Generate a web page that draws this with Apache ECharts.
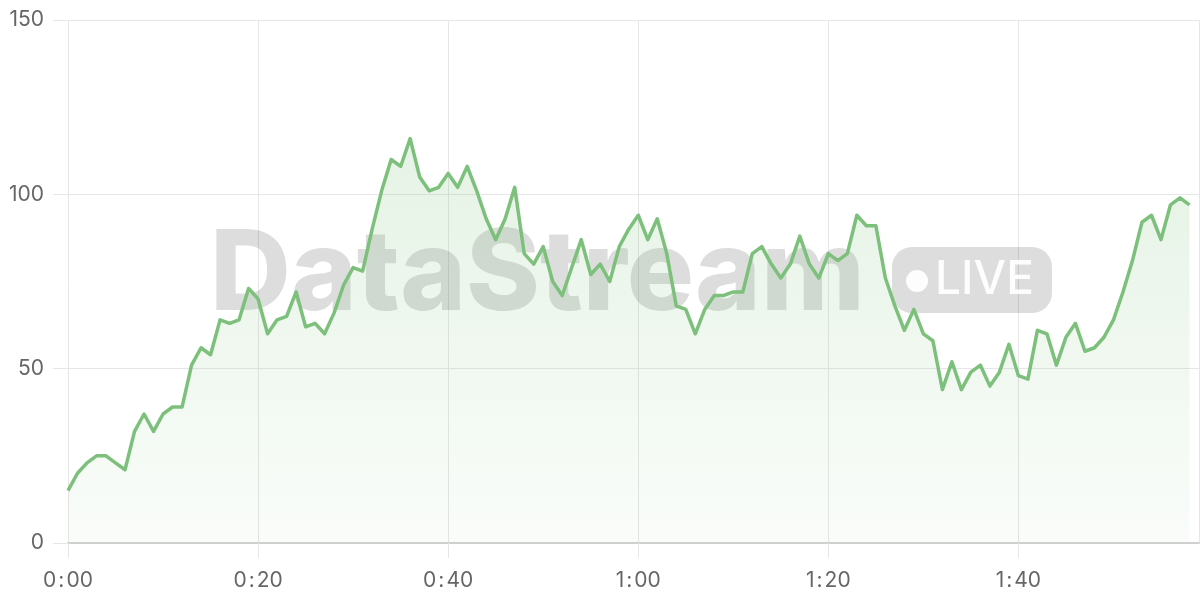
<!DOCTYPE html>
<html>
<head>
<meta charset="utf-8">
<script src="https://cdn.jsdelivr.net/npm/echarts@6/dist/echarts.min.js"></script>
<style>
html,body{margin:0;padding:0;background:#fff;}
#chart{width:1200px;height:600px;}
</style>
</head>
<body>
<div id="chart"></div>
<script>
// sample minute offsets start at 0, one sample per minute
const startMinute = 0;
const stepMinutes = 1;
const values = [
  15,20,23,25,25,23,21,32,37,32,
  37,39,39,51,56,54,64,63,64,73,
  70,60,64,65,72,62,63,60,66,74,
  79,78,90,101,110,108,116,105,101,102,
  106,102,108,101,93,87,93,102,83,80,
  85,75,71,79,87,77,80,75,85,90,
  94,87,93,83,68,67,60,67,71,71,
  72,72,83,85,80,76,80,88,80,76,
  83,81,83,94,91,91,76,68,61,67,
  60,58,44,52,44,49,51,45,49,57,
  48,47,61,60,51,59,63,55,56,59,
  64,72,81,92,94,87,97,99,97
];
const xMin = 0, xMax = 119, xInterval = 20;
const yTicks = [0, 50, 100, 150];
const watermarkTitle = 'DataStream';
const watermarkBadge = 'LIVE';

const seriesData = values.map((v, i) => [startMinute + i * stepMinutes, v]);

function fmtTime(v) {
  const h = Math.floor(v / 60);
  const m = Math.round(v % 60);
  return '{d|' + h + '}{c|:}{d|' + (m < 10 ? '0' + m : m) + '}';
}

const chart = echarts.init(document.getElementById('chart'), null, {renderer: 'canvas'});
const lineColor = '#7cc07c';
const gridColor = '#e6e6e6';
const labelFont = 'Inter, "Noto Sans", sans-serif';

chart.setOption({
  animation: false,
  backgroundColor: '#ffffff',
  grid: {left: 68, right: 1, top: 20, bottom: 57, containLabel: false},
  xAxis: {
    type: 'value',
    min: xMin, max: xMax, interval: xInterval,
    axisLine: {show: true, lineStyle: {color: '#d0d0d0', width: 2}},
    axisTick: {show: true, length: 15, lineStyle: {color: gridColor, width: 1}},
    splitLine: {show: true, lineStyle: {color: gridColor, width: 1}},
    axisLabel: {
      color: '#666', fontSize: 21, fontFamily: labelFont, margin: 27,
      showMaxLabel: false,
      formatter: v => fmtTime(v),
      rich: {
        d: {color: '#666', fontSize: 21, fontFamily: labelFont},
        c: {color: '#666', fontSize: 21, fontFamily: labelFont, padding: [0, 2, 0, 2]}
      }
    }
  },
  yAxis: {
    type: 'value',
    min: yTicks[0], max: yTicks[yTicks.length - 1], interval: yTicks[1] - yTicks[0],
    axisLine: {show: false},
    axisTick: {show: true, length: 15, lineStyle: {color: gridColor, width: 1}},
    splitLine: {show: true, lineStyle: {color: gridColor, width: 1}},
    axisLabel: {color: '#666', fontSize: 21, fontFamily: labelFont, margin: 24}
  },
  graphic: [
    {
      type: 'text', z: 1, silent: true,
      x: 210, y: 276,
      style: {
        text: watermarkTitle,
        fontSize: 112, fontWeight: 800, fontFamily: 'Inter, "Noto Sans", sans-serif',
        fill: 'rgba(0,0,0,0.135)',
        verticalAlign: 'middle', align: 'left'
      }
    },
    {
      type: 'rect', z: 1, silent: true,
      shape: {x: 892, y: 247, width: 160, height: 66, r: 20},
      style: {fill: 'rgba(0,0,0,0.135)'}
    },
    {
      type: 'circle', z: 1, silent: true,
      shape: {cx: 917, cy: 281, r: 11},
      style: {fill: 'rgba(255,255,255,0.92)'}
    },
    {
      type: 'text', z: 1, silent: true,
      x: 935, y: 280,
      style: {
        text: watermarkBadge,
        fontSize: 46, fontWeight: 500, fontFamily: 'Inter, "Noto Sans", sans-serif',
        fill: 'rgba(255,255,255,0.92)',
        verticalAlign: 'middle', align: 'left'
      }
    }
  ],
  series: [{
    type: 'line',
    data: seriesData,
    showSymbol: false,
    symbol: 'none',
    smooth: false,
    z: 3,
    lineStyle: {color: lineColor, width: 3.5, join: 'round'},
    itemStyle: {color: lineColor},
    areaStyle: {
      color: new echarts.graphic.LinearGradient(0, 0, 0, 1, [
        {offset: 0, color: 'rgba(124,192,124,0.28)'},
        {offset: 1, color: 'rgba(124,192,124,0.06)'}
      ])
    }
  }]
});
</script>
</body>
</html>
